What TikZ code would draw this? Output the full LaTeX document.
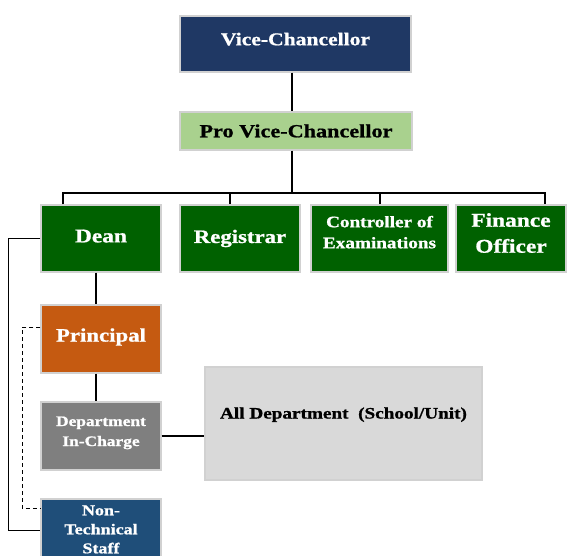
\documentclass[tikz,border=0pt]{standalone}
\usepackage{fontspec}
\setmainfont{Liberation Serif}[FakeStretch=1.2,FakeBold=1]
\usetikzlibrary{calc}
\definecolor{vcblue}{HTML}{1F3864}
\definecolor{pvcgreen}{HTML}{A9D18E}
\definecolor{dkgreen}{HTML}{006100}
\definecolor{prorange}{HTML}{C55A11}
\definecolor{deptgrey}{HTML}{7F7F7F}
\definecolor{allgrey}{HTML}{D9D9D9}
\definecolor{ntblue}{HTML}{1F4E79}
\newcommand{\stk}[1]{\begin{tabular}{@{}c@{}}#1\end{tabular}}
\newcommand{\lift}[2]{\raisebox{#1}[\height][\depth]{#2}}
\begin{document}
\begin{tikzpicture}[x=1pt,y=-1pt,
  box/.style={draw=black!18, line width=1.4pt, inner sep=0pt, align=center},
  conn/.style={draw=black, line width=1.3pt}]
\useasboundingbox (0,0) rectangle (568,556);
\clip (0,0) rectangle (568,556);

\node[box, fill=vcblue, text=white, minimum width=231pt, minimum height=56pt,
  font=\bfseries\fontsize{18}{20}\selectfont] (vc) at (295.5,44) {\raisebox{10pt}{Vice-Chancellor}};
\node[box, fill=pvcgreen, text=black, minimum width=232pt, minimum height=38pt,
  font=\bfseries\fontsize{18.5}{20}\selectfont] (pvc) at (296,131) {Pro Vice-Chancellor};

\node[box, fill=dkgreen, text=white, minimum width=120pt, minimum height=67pt,
  font=\bfseries\fontsize{19.5}{22}\selectfont] (dean) at (101,238.5) {\raisebox{5pt}{Dean}};
\node[box, fill=dkgreen, text=white, minimum width=120pt, minimum height=67pt,
  font=\bfseries\fontsize{19}{22}\selectfont] (reg) at (240,238.5) {\raisebox{3pt}{Registrar}};
\node[box, fill=dkgreen, text=white, minimum width=137pt, minimum height=67pt,
  font=\bfseries\fontsize{16}{21}\selectfont] (coe) at (379.5,238.5) {\lift{5pt}{\stk{Controller of\\Examinations}}};
\node[box, fill=dkgreen, text=white, minimum width=110pt, minimum height=67pt,
  font=\bfseries\fontsize{19.5}{26}\selectfont] (fin) at (511,238.5) {\lift{4pt}{\stk{Finance\\Officer}}};

\node[box, fill=prorange, text=white, minimum width=120pt, minimum height=68pt,
  font=\bfseries\fontsize{19}{22}\selectfont] (prin) at (101,339) {\raisebox{8pt}{Principal}};
\node[box, fill=deptgrey, text=white, minimum width=120pt, minimum height=68pt,
  font=\bfseries\fontsize{14.5}{20}\selectfont] (dept) at (101,436) {\lift{4pt}{\stk{Department\\In-Charge}}};
\node[box, fill=allgrey, text=black, minimum width=277pt, minimum height=113pt,
  font=\bfseries\fontsize{16}{20}\selectfont] (all) at (343.5,423.5) {\raisebox{21pt}{All Department~~(School/Unit)}};
\node[box, fill=ntblue, text=white, minimum width=120pt, minimum height=63pt,
  font=\bfseries\fontsize{15}{19}\selectfont] (nt) at (101,530.5) {\stk{Non-\\Technical\\Staff}};

% connectors
\draw[conn] ([xshift=-3.5pt]vc.south) -- ([xshift=-4pt]pvc.north);
\coordinate (bus) at (0,193);
\coordinate (b1) at (63,193);
\coordinate (b2) at (230,193);
\coordinate (b3) at (380,193);
\coordinate (b4) at (545,193);
\draw[conn] ([xshift=-4pt]pvc.south) -- ([xshift=-4pt]pvc.south |- bus);
\draw[conn] (b1 |- dean.north) -- (b1) -- (b4) -- (b4 |- fin.north);
\draw[conn] (b2) -- (b2 |- reg.north);
\draw[conn] (b3) -- (b3 |- coe.north);
\draw[conn] ([xshift=-5pt]dean.south) -- ([xshift=-5pt]prin.north);
\draw[conn] ([xshift=-5pt]prin.south) -- ([xshift=-5pt]dept.north);
\draw[conn] (dept.east) -- (dept.east -| all.west);
\draw[conn] (dean.west) -- ++(-32,0) |- (nt.west);
\draw[conn, line width=1pt, dash pattern=on 4pt off 3pt] ([yshift=12pt]prin.west) -- ++(-18,0) |- ([yshift=22pt]nt.west);
\end{tikzpicture}
\end{document}
